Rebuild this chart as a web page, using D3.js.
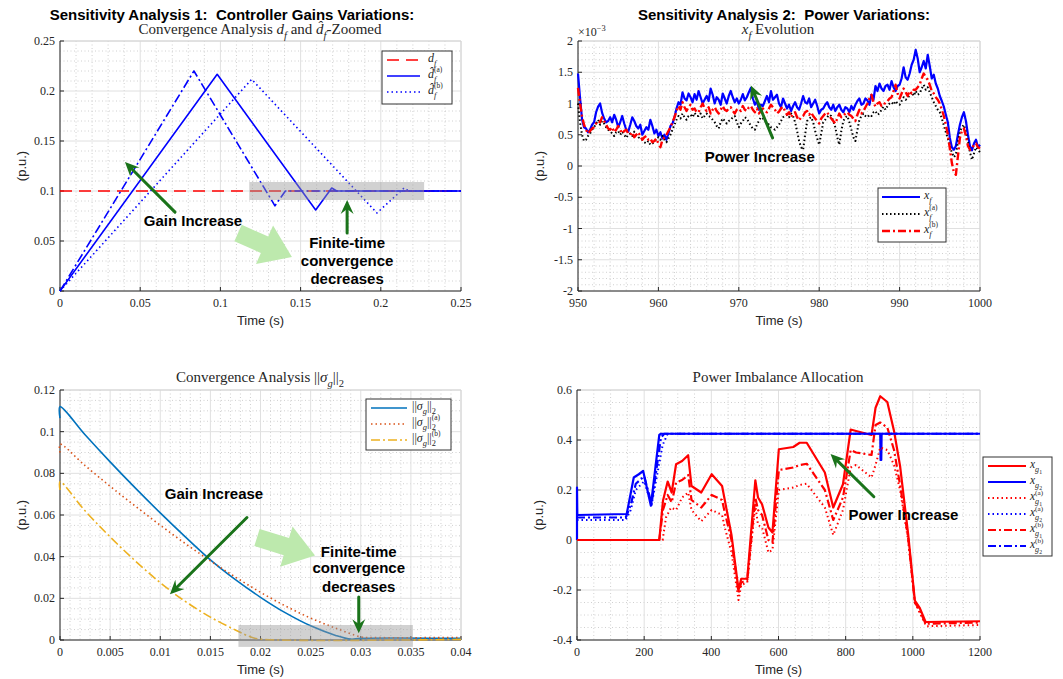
<!DOCTYPE html>
<html lang="en">
<head>
<meta charset="UTF-8">
<title>Sensitivity Analysis</title>
<script src="https://cdn.jsdelivr.net/npm/d3@7"></script>
<style>
  body { margin: 0; background: #fff; }
  text { white-space: pre; }
</style>
</head>
<body>
<div id="chart"></div>
<script>
// ---------- data: top-left (controller gains, d_f) ----------
var tlTimeDf = [0, 0.25];
var tlDf = [0.1, 0.1];
var tlTimeA = [0, 0.098, 0.1594, 0.1694, 0.1725, 0.25];
var tlDfA = [0, 0.2167, 0.081, 0.103, 0.1, 0.1];
var tlTimeB = [0, 0.1195, 0.1976, 0.2145, 0.2175, 0.25];
var tlDfB = [0, 0.2117, 0.078, 0.103, 0.1, 0.1];
var tlTimeC = [0, 0.0835, 0.134, 0.1405, 0.25];
var tlDfC = [0, 0.22, 0.0852, 0.1, 0.1];

// ---------- data: top-right (x_f, in 1e-3 p.u.) ----------
var trTime = [
  950, 950.25, 950.5, 950.75, 951, 951.25, 951.5, 951.75, 952, 952.25, 952.5, 952.75, 953, 953.25, 953.5, 953.75, 954, 954.25, 954.5, 954.75,
  955, 955.25, 955.5, 955.75, 956, 956.25, 956.5, 956.75, 957, 957.25, 957.5, 957.75, 958, 958.25, 958.5, 958.75, 959, 959.25, 959.5, 959.75,
  960, 960.25, 960.5, 960.75, 961, 961.25, 961.5, 961.75, 962, 962.25, 962.5, 962.75, 963, 963.25, 963.5, 963.75, 964, 964.25, 964.5, 964.75,
  965, 965.25, 965.5, 965.75, 966, 966.25, 966.5, 966.75, 967, 967.25, 967.5, 967.75, 968, 968.25, 968.5, 968.75, 969, 969.25, 969.5, 969.75,
  970, 970.25, 970.5, 970.75, 971, 971.25, 971.5, 971.75, 972, 972.25, 972.5, 972.75, 973, 973.25, 973.5, 973.75, 974, 974.25, 974.5, 974.75,
  975, 975.25, 975.5, 975.75, 976, 976.25, 976.5, 976.75, 977, 977.25, 977.5, 977.75, 978, 978.25, 978.5, 978.75, 979, 979.25, 979.5, 979.75,
  980, 980.25, 980.5, 980.75, 981, 981.25, 981.5, 981.75, 982, 982.25, 982.5, 982.75, 983, 983.25, 983.5, 983.75, 984, 984.25, 984.5, 984.75,
  985, 985.25, 985.5, 985.75, 986, 986.25, 986.5, 986.75, 987, 987.25, 987.5, 987.75, 988, 988.25, 988.5, 988.75, 989, 989.25, 989.5, 989.75,
  990, 990.25, 990.5, 990.75, 991, 991.25, 991.5, 991.75, 992, 992.25, 992.5, 992.75, 993, 993.25, 993.5, 993.75, 994, 994.25, 994.5, 994.75,
  995, 995.25, 995.5, 995.75, 996, 996.25, 996.5, 996.75, 997, 997.25, 997.5, 997.75, 998, 998.25, 998.5, 998.75, 999, 999.25, 999.5, 999.75,
  1000];
var trXf = [
  1.48, 1.1, 0.75, 0.62, 0.6, 0.54, 0.58, 0.66, 0.7, 0.86, 0.95, 1.0, 0.85, 0.76, 0.7, 0.72, 0.78, 0.7, 0.82, 0.74,
  0.62, 0.7, 0.8, 0.68, 0.58, 0.55, 0.66, 0.78, 0.72, 0.64, 0.6, 0.66, 0.5, 0.56, 0.62, 0.58, 0.74, 0.64, 0.52, 0.58,
  0.48, 0.54, 0.44, 0.5, 0.42, 0.52, 0.64, 0.68, 0.78, 0.92, 1.02, 0.98, 1.18, 1.08, 1.05, 1.16, 1.1, 1.02, 1.15, 1.06,
  1.2, 1.1, 1.0, 1.06, 1.12, 1.04, 1.24, 1.14, 1.0, 1.1, 1.06, 0.98, 1.16, 1.08, 1.0, 1.12, 1.2, 1.1, 1.02, 1.08,
  1.0, 1.06, 1.15, 1.05, 1.1, 1.18, 1.25, 1.08, 0.98, 1.04, 0.9, 0.98, 0.96, 1.04, 1.12, 1.02, 1.2, 1.06, 1.1, 1.14,
  1.0, 0.94, 1.08, 1.0, 0.92, 0.98, 0.88, 0.96, 1.02, 0.94, 0.9, 1.0, 1.12, 1.02, 1.0, 1.08, 0.94, 1.0, 1.06, 0.96,
  0.84, 0.9, 0.92, 0.98, 1.02, 0.94, 0.9, 0.98, 0.88, 0.94, 0.98, 0.9, 0.86, 0.94, 0.92, 0.86, 0.96, 0.9, 0.98, 1.04,
  1.08, 0.98, 1.0, 1.08, 1.05, 0.98, 1.14, 1.06, 1.28, 1.2, 1.32, 1.24, 1.2, 1.28, 1.3, 1.22, 1.36, 1.26, 1.2, 1.28,
  1.3, 1.4, 1.58, 1.42, 1.38, 1.48, 1.62, 1.7, 1.86, 1.72, 1.5, 1.58, 1.68, 1.56, 1.78, 1.6, 1.4, 1.46, 1.32, 1.24,
  1.12, 1.04, 0.95, 0.82, 0.7, 0.45, 0.3, 0.26, 0.32, 0.5, 0.66, 0.78, 0.86, 0.72, 0.5, 0.32, 0.25, 0.36, 0.42, 0.3,
  0.34];
var trXfA = [
  1.0, 0.7, 0.5, 0.4, 0.42, 0.48, 0.52, 0.58, 0.62, 0.68, 0.74, 0.66, 0.72, 0.68, 0.62, 0.58, 0.56, 0.52, 0.48, 0.54,
  0.56, 0.5, 0.55, 0.5, 0.45, 0.5, 0.52, 0.48, 0.55, 0.5, 0.46, 0.44, 0.42, 0.38, 0.36, 0.4, 0.34, 0.36, 0.38, 0.44,
  0.46, 0.42, 0.48, 0.42, 0.38, 0.44, 0.5, 0.58, 0.66, 0.74, 0.8, 0.76, 0.84, 0.78, 0.74, 0.8, 0.82, 0.78, 0.85, 0.8,
  0.8, 0.84, 0.76, 0.8, 0.84, 0.8, 0.78, 0.74, 0.7, 0.64, 0.6, 0.7, 0.76, 0.72, 0.68, 0.72, 0.74, 0.78, 0.8, 0.7,
  0.62, 0.68, 0.72, 0.78, 0.76, 0.7, 0.64, 0.6, 0.58, 0.66, 0.72, 0.78, 0.76, 0.72, 0.7, 0.66, 0.62, 0.6, 0.58, 0.62,
  0.66, 0.72, 0.78, 0.8, 0.82, 0.78, 0.84, 0.8, 0.7, 0.56, 0.4, 0.3, 0.26, 0.5, 0.72, 0.76, 0.78, 0.7, 0.56, 0.44,
  0.34, 0.52, 0.7, 0.74, 0.78, 0.82, 0.8, 0.72, 0.62, 0.46, 0.34, 0.56, 0.72, 0.78, 0.8, 0.7, 0.58, 0.46, 0.4, 0.58,
  0.74, 0.8, 0.84, 0.8, 0.78, 0.82, 0.8, 0.86, 0.88, 0.82, 0.84, 0.9, 0.95, 0.9, 0.96, 1.0, 1.02, 0.98, 1.04, 1.0,
  0.98, 1.04, 1.1, 1.06, 1.08, 1.14, 1.18, 1.12, 1.2, 1.14, 1.16, 1.24, 1.3, 1.22, 1.26, 1.18, 1.1, 1.02, 0.96, 0.9,
  0.86, 0.76, 0.65, 0.54, 0.44, 0.32, 0.22, 0.14, 0.18, 0.38, 0.55, 0.62, 0.66, 0.54, 0.4, 0.22, 0.1, 0.2, 0.3, 0.26,
  0.22];
var trXfB = [
  1.25, 1.0, 0.8, 0.66, 0.58, 0.52, 0.56, 0.6, 0.62, 0.68, 0.72, 0.7, 0.78, 0.72, 0.66, 0.6, 0.58, 0.62, 0.54, 0.58,
  0.64, 0.58, 0.52, 0.56, 0.58, 0.52, 0.5, 0.54, 0.46, 0.5, 0.54, 0.48, 0.42, 0.46, 0.48, 0.42, 0.44, 0.38, 0.4, 0.44,
  0.36, 0.3, 0.42, 0.46, 0.5, 0.56, 0.62, 0.7, 0.78, 0.88, 0.96, 0.9, 1.02, 0.94, 0.88, 0.94, 0.98, 0.9, 0.92, 0.86,
  0.86, 0.94, 1.0, 0.92, 0.88, 0.94, 0.84, 0.9, 0.94, 0.88, 0.84, 0.9, 0.96, 0.9, 0.88, 0.92, 0.94, 0.88, 0.84, 0.9,
  0.92, 0.88, 0.96, 0.9, 0.88, 0.94, 0.96, 0.9, 0.86, 0.92, 0.84, 0.88, 0.92, 0.88, 0.86, 0.92, 0.98, 0.94, 0.9, 0.84,
  0.87, 0.92, 0.95, 0.88, 0.82, 0.86, 0.78, 0.84, 0.86, 0.78, 0.73, 0.78, 0.8, 0.86, 0.88, 0.82, 0.86, 0.8, 0.76, 0.72,
  0.68, 0.76, 0.8, 0.84, 0.86, 0.8, 0.76, 0.72, 0.68, 0.76, 0.84, 0.78, 0.8, 0.84, 0.86, 0.82, 0.8, 0.76, 0.72, 0.82,
  0.9, 0.84, 0.88, 0.94, 1.0, 1.08, 1.14, 1.02, 0.95, 1.0, 1.02, 0.96, 0.97, 1.02, 1.04, 1.08, 1.1, 1.2, 1.3, 1.16,
  1.08, 1.16, 1.24, 1.18, 1.12, 1.2, 1.16, 1.22, 1.22, 1.26, 1.3, 1.4, 1.48, 1.42, 1.38, 1.3, 1.2, 1.16, 1.1, 1.06,
  1.0, 0.9, 0.8, 0.66, 0.5, 0.28, 0.05, -0.1, -0.14, 0.15, 0.45, 0.56, 0.6, 0.48, 0.32, 0.26, 0.28, 0.34, 0.36, 0.3,
  0.28];

// ---------- data: bottom-left (||sigma_g||_2) ----------
var blTime = [0, 0, 0.0025, 0.005, 0.0075, 0.01, 0.0125, 0.015, 0.0175, 0.02, 0.0225, 0.025, 0.0275, 0.029, 0.03, 0.04];
var blSigma = [0.1065, 0.112, 0.0985, 0.0855, 0.073, 0.061, 0.0495, 0.0385, 0.029, 0.0205, 0.013, 0.0068, 0.0022, 0.0004, 0.0008, 0.0008];
var blTimeA = [0, 0, 0.0025, 0.005, 0.0075, 0.01, 0.0125, 0.015, 0.0175, 0.02, 0.0225, 0.025, 0.0275, 0.03, 0.031, 0.04];
var blSigmaA = [0.09, 0.094, 0.0837, 0.0738, 0.0643, 0.0551, 0.0463, 0.038, 0.0302, 0.0229, 0.0163, 0.0105, 0.0057, 0.0015, 0.0012, 0.0012];
var blTimeB = [0, 0, 0.0025, 0.005, 0.0075, 0.01, 0.0125, 0.015, 0.0175, 0.019, 0.02, 0.04];
var blSigmaB = [0.072, 0.076, 0.062, 0.0495, 0.038, 0.0275, 0.0185, 0.011, 0.0048, 0.0015, 0.0004, 0.0003];

// ---------- data: bottom-right (power imbalance allocation) ----------
var brTimeG1 = [0, 245, 256, 270, 282, 295, 313, 331, 341, 370, 401, 432, 440, 460, 481, 489, 507, 531, 539, 551,
  570, 582, 601, 644, 663, 684, 738, 763, 792, 815, 831, 877, 889, 903, 924, 944, 962, 986, 1006, 1020, 1038, 1200];
var brG1 = [0, 0, 0.157, 0.234, 0.19, 0.303, 0.316, 0.339, 0.216, 0.19, 0.263, 0.216, 0.16, 0.02, -0.2, -0.155, -0.155, 0.239, 0.17, 0.143,
  0.05, 0.03, 0.363, 0.372, 0.389, 0.389, 0.27, 0.13, 0.223, 0.442, 0.436, 0.42, 0.529, 0.575, 0.552, 0.436, 0.296, 0.024, -0.242, -0.27, -0.328, -0.325];
var brG1B = [0, 0, 0.12, 0.18, 0.15, 0.23, 0.24, 0.26, 0.16, 0.13, 0.18, 0.16, 0.11, 0.0, -0.21, -0.17, -0.16, 0.17, 0.12, 0.1,
  0.0, -0.01, 0.28, 0.29, 0.3, 0.305, 0.2, 0.08, 0.17, 0.36, 0.35, 0.34, 0.46, 0.47, 0.45, 0.36, 0.22, 0.01, -0.25, -0.28, -0.335, -0.33];
var brTimeG1A = [0, 255, 265, 280, 295, 313, 331, 341, 370, 401, 432, 440, 460, 481, 489, 507, 531, 539, 551, 570,
  582, 601, 644, 663, 684, 738, 763, 792, 815, 831, 877, 889, 903, 924, 944, 962, 986, 1006, 1020, 1040, 1200];
var brG1A = [0, 0, 0.09, 0.13, 0.12, 0.17, 0.19, 0.12, 0.075, 0.12, 0.1, 0.05, -0.05, -0.24, -0.18, -0.17, 0.14, 0.06, 0.05, -0.05,
  -0.04, 0.2, 0.21, 0.22, 0.225, 0.13, 0.02, 0.12, 0.29, 0.3, 0.25, 0.3, 0.37, 0.36, 0.3, 0.2, 0.0, -0.25, -0.29, -0.345, -0.34];
var brTimeG2 = [0, 0, 1, 148, 169, 184, 197, 220, 245, 250, 903, 904, 906, 907, 1200];
var brG2 = [0, 0.21, 0.1, 0.104, 0.25, 0.263, 0.276, 0.137, 0.42, 0.425, 0.425, 0.32, 0.32, 0.425, 0.425];
var brTimeG2A = [0, 145, 160, 175, 200, 222, 255, 270, 1200];
var brG2A = [0.08, 0.08, 0.12, 0.2, 0.235, 0.14, 0.38, 0.425, 0.425];
var brTimeG2B = [0, 145, 160, 175, 200, 222, 250, 260, 1200];
var brG2B = [0.09, 0.09, 0.14, 0.225, 0.255, 0.145, 0.41, 0.425, 0.425];

// ---------- ticks ----------
var tlTicks = [0, 0.05, 0.1, 0.15, 0.2, 0.25];
var trXTicks = [950, 960, 970, 980, 990, 1000];
var trYTicks = [-2, -1.5, -1, -0.5, 0, 0.5, 1, 1.5, 2];
var blXTicks = [0, 0.005, 0.01, 0.015, 0.02, 0.025, 0.03, 0.035, 0.04];
var blYTicks = [0, 0.02, 0.04, 0.06, 0.08, 0.1, 0.12];
var brXTicks = [0, 200, 400, 600, 800, 1000, 1200];
var brYTicks = [-0.4, -0.2, 0, 0.2, 0.4, 0.6];

var serif = "'Liberation Serif', 'Times New Roman', serif";
var sans = "'Liberation Sans', Arial, Helvetica, sans-serif";
var ink = "#262626";
var green = "#1a731a";
var lightGreen = "#bde9ad";

var svg = d3.select("#chart").append("svg")
  .attr("width", 1063).attr("height", 679)
  .style("background", "#fff");

// Axes frame with MATLAB-like grid
function panel(o) {
  var x = d3.scaleLinear().domain(o.xDomain).range([o.left, o.right]);
  var y = d3.scaleLinear().domain(o.yDomain).range([o.bottom, o.top]);
  var g = svg.append("g");
  function isMajor(v, majors, step) {
    return majors.some(function (m) { return Math.abs(m - v) < step * 1e-3; });
  }
  d3.range(o.xDomain[0], o.xDomain[1] + o.xMinor / 2, o.xMinor)
    .filter(function (v) { return !isMajor(v, o.xTicks, o.xMinor); })
    .forEach(function (v) {
      g.append("line").attr("x1", x(v)).attr("x2", x(v)).attr("y1", o.top).attr("y2", o.bottom)
        .attr("stroke", "#c4c4c4").attr("stroke-width", 0.8).attr("stroke-dasharray", "1,2.5");
    });
  d3.range(o.yDomain[0], o.yDomain[1] + o.yMinor / 2, o.yMinor)
    .filter(function (v) { return !isMajor(v, o.yTicks, o.yMinor); })
    .forEach(function (v) {
      g.append("line").attr("y1", y(v)).attr("y2", y(v)).attr("x1", o.left).attr("x2", o.right)
        .attr("stroke", "#c4c4c4").attr("stroke-width", 0.8).attr("stroke-dasharray", "1,2.5");
    });
  o.xTicks.forEach(function (v) {
    g.append("line").attr("x1", x(v)).attr("x2", x(v)).attr("y1", o.top).attr("y2", o.bottom)
      .attr("stroke", "#e0e0e0").attr("stroke-width", 1);
  });
  o.yTicks.forEach(function (v) {
    g.append("line").attr("y1", y(v)).attr("y2", y(v)).attr("x1", o.left).attr("x2", o.right)
      .attr("stroke", "#e0e0e0").attr("stroke-width", 1);
  });
  // box
  g.append("line").attr("x1", o.left).attr("x2", o.right).attr("y1", o.top).attr("y2", o.top)
    .attr("stroke", "#d4d4d4");
  g.append("line").attr("x1", o.right).attr("x2", o.right).attr("y1", o.top).attr("y2", o.bottom)
    .attr("stroke", "#d4d4d4");
  g.append("line").attr("x1", o.left).attr("x2", o.left).attr("y1", o.top).attr("y2", o.bottom)
    .attr("stroke", ink);
  g.append("line").attr("x1", o.left).attr("x2", o.right).attr("y1", o.bottom).attr("y2", o.bottom)
    .attr("stroke", ink);
  var fmt = function (v) { return String(+v.toFixed(6)); };
  o.xTicks.forEach(function (v) {
    g.append("line").attr("x1", x(v)).attr("x2", x(v)).attr("y1", o.bottom).attr("y2", o.bottom - 4).attr("stroke", ink);
    g.append("text").attr("x", x(v)).attr("y", o.bottom + 16).attr("text-anchor", "middle")
      .attr("font-family", serif).attr("font-size", 12).attr("fill", ink).text(fmt(v));
  });
  o.yTicks.forEach(function (v) {
    g.append("line").attr("x1", o.left).attr("x2", o.left + 4).attr("y1", y(v)).attr("y2", y(v)).attr("stroke", ink);
    g.append("text").attr("x", o.left - 5).attr("y", y(v) + 4).attr("text-anchor", "end")
      .attr("font-family", serif).attr("font-size", 12).attr("fill", ink).text(fmt(v));
  });
  // axis labels
  g.append("text").attr("x", (o.left + o.right) / 2).attr("y", o.bottom + 34).attr("text-anchor", "middle")
    .attr("font-family", sans).attr("font-size", 13).attr("fill", ink).text("Time (s)");
  g.append("text").attr("transform", "translate(" + (o.left - 34) + "," + ((o.top + o.bottom) / 2) + ") rotate(-90)")
    .attr("text-anchor", "middle").attr("font-family", sans).attr("font-size", 13).attr("fill", ink).text("(p.u.)");
  return { x: x, y: y, g: g };
}

function series(p, xs, ys, color, width, dash, curve) {
  var pts = xs.map(function (t, i) { return [t, ys[i]]; });
  p.g.append("path").datum(pts)
    .attr("fill", "none").attr("stroke", color).attr("stroke-width", width)
    .attr("stroke-dasharray", dash || null).attr("stroke-linejoin", "round")
    .attr("d", d3.line().x(function (d) { return p.x(d[0]); }).y(function (d) { return p.y(d[1]); })
      .curve(curve || d3.curveLinear));
}

// tokens: [text, kind, style, subsub]; kind n=normal b=sub p=sup ps=sup stacked on last sub
function math(g, x, y, size, tokens) {
  var cx = x, lastSubX = x;
  tokens.forEach(function (tk) {
    var fs = size, dy = 0, px = cx;
    if (tk[1] === "b") { fs = size * 0.7; dy = size * 0.34; lastSubX = cx; }
    else if (tk[1] === "p") { fs = size * 0.7; dy = -size * 0.42; }
    else if (tk[1] === "ps") { fs = size * 0.62; dy = -size * 0.46; px = lastSubX; }
    var t = g.append("text").attr("x", px).attr("y", y + dy)
      .attr("font-family", serif).attr("font-size", fs)
      .attr("font-style", tk[2] === "i" ? "italic" : "normal")
      .attr("fill", ink);
    t.append("tspan").text(tk[0]);
    if (tk[3]) {
      t.append("tspan").attr("font-size", size * 0.5).attr("font-style", "normal")
        .attr("dy", size * 0.18).text(tk[3]);
    }
    cx = Math.max(cx, px + t.node().getComputedTextLength());
  });
  return cx - x;
}

function mathCentered(cx, y, size, tokens) {
  var g = svg.append("g");
  var w = math(g, 0, y, size, tokens);
  g.attr("transform", "translate(" + (cx - w / 2) + ",0)");
}

function title(cx, y, txt) {
  svg.append("text").attr("x", cx).attr("y", y).attr("text-anchor", "middle")
    .attr("font-family", sans).attr("font-weight", "bold").attr("font-size", 15).attr("fill", "#000").text(txt);
}

function legend(box, rows, lineX0, lineX1, textX, size, entries) {
  var g = svg.append("g");
  g.append("rect").attr("x", box[0]).attr("y", box[1]).attr("width", box[2]).attr("height", box[3])
    .attr("fill", "#fff").attr("stroke", "#333").attr("stroke-width", 1);
  entries.forEach(function (e, i) {
    g.append("line").attr("x1", lineX0).attr("x2", lineX1).attr("y1", rows[i]).attr("y2", rows[i])
      .attr("stroke", e.color).attr("stroke-width", e.width).attr("stroke-dasharray", e.dash || null);
    math(g, textX, rows[i] + 2, size, e.label);
  });
}

function arrow(g, x1, y1, x2, y2, color) {
  var dx = x2 - x1, dy = y2 - y1, L = Math.hypot(dx, dy), ux = dx / L, uy = dy / L, nx = -uy, ny = ux;
  var hl = 14, hw = 13;
  var bx = x2 - ux * hl, by = y2 - uy * hl;
  var ix = x2 - ux * hl * 0.65, iy = y2 - uy * hl * 0.65;
  g.append("line").attr("x1", x1).attr("y1", y1).attr("x2", ix).attr("y2", iy)
    .attr("stroke", color).attr("stroke-width", 3).attr("stroke-linecap", "round");
  g.append("path").attr("fill", color)
    .attr("d", "M" + x2 + "," + y2 + "L" + (bx + nx * hw / 2) + "," + (by + ny * hw / 2) +
      "L" + ix + "," + iy + "L" + (bx - nx * hw / 2) + "," + (by - ny * hw / 2) + "Z");
}

function blockArrow(g, x1, y1, x2, y2) {
  var dx = x2 - x1, dy = y2 - y1, L = Math.hypot(dx, dy), ux = dx / L, uy = dy / L, nx = -uy, ny = ux;
  var sw = 18, hw = 42, hl = 30;
  var bx = x2 - ux * hl, by = y2 - uy * hl;
  var pts = [
    [x1 + nx * sw / 2, y1 + ny * sw / 2], [bx + nx * sw / 2, by + ny * sw / 2], [bx + nx * hw / 2, by + ny * hw / 2],
    [x2, y2], [bx - nx * hw / 2, by - ny * hw / 2], [bx - nx * sw / 2, by - ny * sw / 2], [x1 - nx * sw / 2, y1 - ny * sw / 2]];
  g.append("path").attr("fill", lightGreen).attr("d", "M" + pts.join("L") + "Z");
}

function bold(g, x, y, txt) {
  g.append("text").attr("x", x).attr("y", y).attr("text-anchor", "middle")
    .attr("font-family", sans).attr("font-weight", "bold").attr("font-size", 15).attr("fill", "#000").text(txt);
}

function shade(p, x0, x1, y0, y1) {
  p.g.append("rect").attr("x", p.x(x0)).attr("y", p.y(y1)).attr("width", p.x(x1) - p.x(x0)).attr("height", p.y(y0) - p.y(y1))
    .attr("fill", "#999").attr("opacity", 0.45);
}

// ================= Top-left =================
var tl = panel({ left: 60, right: 461, top: 41, bottom: 291, xDomain: [0, 0.25], yDomain: [0, 0.25],
  xTicks: tlTicks, yTicks: tlTicks, xMinor: 0.01, yMinor: 0.01 });
series(tl, tlTimeDf, tlDf, "#ff0000", 1.6, "12,7");
series(tl, tlTimeA, tlDfA, "#0000ff", 1.6);
series(tl, tlTimeB, tlDfB, "#0000ff", 1.6, "1.5,3");
series(tl, tlTimeC, tlDfC, "#0000ff", 1.6, "9,3,2,3");
shade(tl, 0.118, 0.227, 0.091, 0.109);
title(232, 20, "Sensitivity Analysis 1:  Controller Gains Variations:");
mathCentered(260, 34, 15, [["Convergence Analysis ", "n", "r"], ["d", "n", "i"], ["f", "b", "i"], [" and ", "n", "r"],
  ["d\u0302", "n", "i"], ["f", "b", "i"], ["-Zoomed", "n", "r"]]);
legend([382, 51, 70, 53], [60, 76, 92], 387, 420, 428, 12, [
  { color: "#ff0000", width: 1.6, dash: "12,7", label: [["d", "n", "i"], ["f", "b", "i"]] },
  { color: "#0000ff", width: 1.6, label: [["d\u0302", "n", "i"], ["f", "b", "i"], ["(a)", "ps", "r"]] },
  { color: "#0000ff", width: 1.6, dash: "1.5,3", label: [["d\u0302", "n", "i"], ["f", "b", "i"], ["(b)", "ps", "r"]] }
]);
arrow(tl.g, tl.x(0.0717), tl.y(0.0789), tl.x(0.0405), tl.y(0.1289), green);
bold(tl.g, tl.x(0.0829), tl.y(0.0649), "Gain Increase");
blockArrow(tl.g, tl.x(0.111), tl.y(0.058), tl.x(0.1446), tl.y(0.034));
arrow(tl.g, tl.x(0.179), tl.y(0.058), tl.x(0.179), tl.y(0.091), green);
bold(tl.g, tl.x(0.179), tl.y(0.043), "Finite-time");
bold(tl.g, tl.x(0.179), tl.y(0.025), "convergence");
bold(tl.g, tl.x(0.179), tl.y(0.007), "decreases");

// ================= Top-right =================
var tr = panel({ left: 578, right: 980, top: 41, bottom: 291, xDomain: [950, 1000], yDomain: [-2, 2],
  xTicks: trXTicks, yTicks: trYTicks, xMinor: 2, yMinor: 0.1 });
series(tr, trTime, trXf, "#0000ff", 2.2);
series(tr, trTime, trXfA, "#000000", 2, "1.5,2.5");
series(tr, trTime, trXfB, "#ff0000", 2.4, "8,3,2,3");
title(784, 20, "Sensitivity Analysis 2:  Power Variations:");
mathCentered(778, 34, 15, [["x", "n", "i"], ["f", "b", "i"], [" Evolution", "n", "r"]]);
math(svg.append("g"), 578, 36, 12, [["\u00d710", "n", "r"], ["\u22123", "p", "r"]]);
legend([878, 188, 68, 54], [197, 214, 231], 882, 920, 924, 12, [
  { color: "#0000ff", width: 2.2, label: [["x", "n", "i"], ["f", "b", "i"]] },
  { color: "#000000", width: 2, dash: "1.5,2.5", label: [["x", "n", "i"], ["f", "b", "i"], ["(a)", "ps", "r"]] },
  { color: "#ff0000", width: 2.4, dash: "8,3,2,3", label: [["x", "n", "i"], ["f", "b", "i"], ["(b)", "ps", "r"]] }
]);
arrow(tr.g, tr.x(974.2), tr.y(0.45), tr.x(971.5), tr.y(1.29), green);
bold(tr.g, tr.x(972.6), tr.y(0.064), "Power Increase");

// ================= Bottom-left =================
var bl = panel({ left: 60, right: 461, top: 390, bottom: 640, xDomain: [0, 0.04], yDomain: [0, 0.12],
  xTicks: blXTicks, yTicks: blYTicks, xMinor: 0.001, yMinor: 0.005 });
series(bl, blTime, blSigma, "#0072bd", 1.6, null, d3.curveCatmullRom);
series(bl, blTimeA, blSigmaA, "#d95319", 1.6, "1.5,3", d3.curveCatmullRom);
series(bl, blTimeB, blSigmaB, "#edb120", 1.6, "9,3,2,3", d3.curveCatmullRom);
shade(bl, 0.0178, 0.0352, -0.0033, 0.0072);
mathCentered(260, 382, 15, [["Convergence Analysis ||", "n", "r"], ["\u03c3", "n", "i"], ["g", "b", "i"], ["||", "n", "r"], ["2", "b", "r"]]);
legend([366, 399, 85, 51], [408, 424, 440], 371, 407, 412, 12, [
  { color: "#0072bd", width: 1.6, label: [["||", "n", "r"], ["\u03c3", "n", "i"], ["g", "b", "i"], ["||", "n", "r"], ["2", "b", "r"]] },
  { color: "#d95319", width: 1.6, dash: "1.5,3", label: [["||", "n", "r"], ["\u03c3", "n", "i"], ["g", "b", "i"], ["||", "n", "r"], ["2", "b", "r"], ["(a)", "ps", "r"]] },
  { color: "#edb120", width: 1.6, dash: "9,3,2,3", label: [["||", "n", "r"], ["\u03c3", "n", "i"], ["g", "b", "i"], ["||", "n", "r"], ["2", "b", "r"], ["(b)", "ps", "r"]] }
]);
bold(bl.g, bl.x(0.01536), bl.y(0.0679), "Gain Increase");
arrow(bl.g, bl.x(0.01865), bl.y(0.0588), bl.x(0.01097), bl.y(0.022), green);
blockArrow(bl.g, bl.x(0.01965), bl.y(0.0492), bl.x(0.02544), bl.y(0.0406));
bold(bl.g, bl.x(0.0298), bl.y(0.0397), "Finite-time");
bold(bl.g, bl.x(0.0298), bl.y(0.032), "convergence");
bold(bl.g, bl.x(0.0298), bl.y(0.023), "decreases");
arrow(bl.g, bl.x(0.0298), bl.y(0.0206), bl.x(0.0298), bl.y(0.0033), green);

// ================= Bottom-right =================
var br = panel({ left: 577, right: 980, top: 390, bottom: 640, xDomain: [0, 1200], yDomain: [-0.4, 0.6],
  xTicks: brXTicks, yTicks: brYTicks, xMinor: 50, yMinor: 0.05 });
series(br, brTimeG1, brG1, "#ff0000", 2.2);
series(br, brTimeG2, brG2, "#0000ff", 2.2);
series(br, brTimeG1A, brG1A, "#ff0000", 2, "1.5,3");
series(br, brTimeG2A, brG2A, "#0000ff", 2, "1.5,3");
series(br, brTimeG1, brG1B, "#ff0000", 2.2, "8,3,2,3");
series(br, brTimeG2B, brG2B, "#0000ff", 2.2, "8,3,2,3");
mathCentered(778, 382, 15, [["Power Imbalance Allocation", "n", "r"]]);
legend([983, 457, 69, 99], [466, 482, 498, 514, 530, 546], 988, 1026, 1030, 11.5, [
  { color: "#ff0000", width: 2.2, label: [["x", "n", "i"], ["g", "b", "i", "1"]] },
  { color: "#0000ff", width: 2.2, label: [["x", "n", "i"], ["g", "b", "i", "2"]] },
  { color: "#ff0000", width: 2, dash: "1.5,3", label: [["x", "n", "i"], ["g", "b", "i", "1"], ["(a)", "ps", "r"]] },
  { color: "#0000ff", width: 2, dash: "1.5,3", label: [["x", "n", "i"], ["g", "b", "i", "2"], ["(a)", "ps", "r"]] },
  { color: "#ff0000", width: 2.2, dash: "8,3,2,3", label: [["x", "n", "i"], ["g", "b", "i", "1"], ["(b)", "ps", "r"]] },
  { color: "#0000ff", width: 2.2, dash: "8,3,2,3", label: [["x", "n", "i"], ["g", "b", "i", "2"], ["(b)", "ps", "r"]] }
]);
arrow(br.g, br.x(884), br.y(0.173), br.x(755), br.y(0.344), green);
bold(br.g, br.x(972), br.y(0.08), "Power Increase");
</script>
</body>
</html>
